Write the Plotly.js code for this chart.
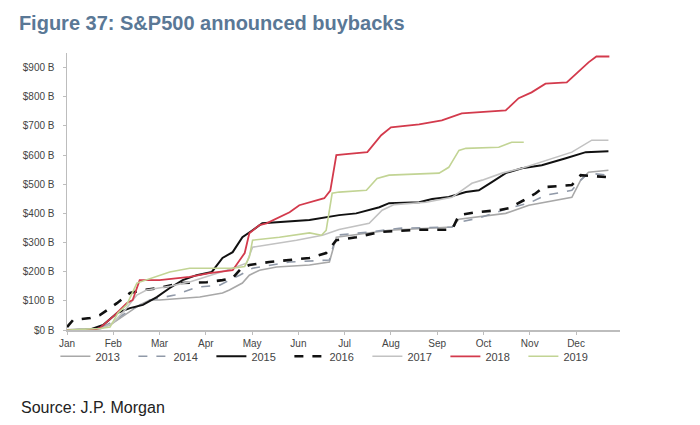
<!DOCTYPE html>
<html>
<head>
<meta charset="utf-8">
<script src="https://cdn.plot.ly/plotly-3.0.1.min.js"></script>
<style>html,body{margin:0;padding:0;background:#fff;}#chart{width:700px;height:425px;}</style>
</head>
<body>
<div id="chart"></div>
<script>
// Month positions: 0 = start of Jan, 11 = start of Dec
const monthTicks = [0,1,2,3,4,5,6,7,8,9,10,11];
const monthLabels = ["Jan","Feb","Mar","Apr","May","Jun","Jul","Aug","Sep","Oct","Nov","Dec"];
const yearNames = ["2013","2014","2015","2016","2017","2018","2019"];

// Cumulative announced buybacks ($B), x = fractional month of year
const x2013 = [0,0.60,0.93,1.25,1.57,1.79,2.00,2.87,3.36,3.51,3.79,3.94,4.16,4.53,5.24,5.67,5.82,6.96,8.32,8.47,9.48,9.98,10.62,10.91,11.10,11.27,11.70];
const y2013 = [0,3,17,51,86,103,103,113,127,137,161,188,205,216,223,233,318,342,353,380,400,428,445,455,514,541,548];

const x2014 = [0,0.71,1.03,1.36,1.79,2.33,2.82,3.30,3.73,4.01,4.81,5.67,5.82,6.53,7.18,8.32,8.47,8.90,9.55,9.98,10.34,10.91,11.10,11.27,11.70];
const y2014 = [0,3,34,68,103,120,147,154,188,212,233,240,325,336,349,353,370,384,418,435,462,479,514,538,531];

const x2015 = [0,0.50,0.78,1.08,1.36,1.64,1.94,2.22,2.50,2.80,3.13,3.36,3.58,3.79,4.01,4.22,5.24,5.88,6.25,6.75,6.96,7.61,7.89,8.25,8.62,8.90,9.18,9.48,9.83,10.26,10.78,11.21,11.70];
const y2015 = [0,2,17,58,75,86,113,144,171,188,199,247,267,318,342,366,377,394,400,421,435,438,449,456,473,479,507,538,555,565,589,610,613];

const x2016 = [0,0.13,0.50,0.71,1.08,1.36,1.64,2.00,2.44,3.02,3.36,3.58,3.77,3.94,4.37,5.24,5.60,5.82,6.25,6.75,7.61,8.32,8.47,8.84,9.33,9.55,9.87,10.13,10.30,10.91,11.10,11.70];
const y2016 = [10,34,41,51,92,127,137,144,161,164,171,178,212,223,233,247,264,308,318,336,344,344,394,404,411,418,445,469,490,497,531,524];

const x2017 = [0,0.71,0.99,1.25,1.51,1.72,2.22,2.65,3.45,3.88,4.01,4.96,5.52,5.88,6.53,6.81,7.07,7.76,8.32,8.75,8.97,9.40,9.83,10.47,10.91,11.34,11.70];
const y2017 = [0,3,24,68,120,137,150,165,205,229,284,308,325,345,366,411,430,438,455,503,514,538,555,589,610,651,651];

const x2018 = [0,0.56,0.71,1.03,1.29,1.42,1.57,2.00,2.65,3.08,3.58,3.84,3.94,4.16,4.31,4.59,4.81,5.02,5.24,5.56,5.69,5.82,6.03,6.49,6.79,7.00,7.61,8.10,8.53,8.84,9.48,9.76,10.04,10.34,10.80,11.27,11.44,11.72];
const y2018 = [0,0,7,51,92,103,171,171,182,195,205,264,332,360,366,387,404,428,438,452,478,600,603,610,668,695,705,719,743,747,753,795,815,845,849,918,938,938];

const x2019 = [0,0.71,0.93,1.10,1.29,1.51,2.22,2.65,3.58,3.84,3.94,4.01,4.59,5.24,5.50,5.60,5.73,5.88,6.47,6.70,6.96,8.04,8.25,8.47,8.62,9.33,9.61,9.87];
const y2019 = [0,5,10,58,86,161,199,212,212,218,250,308,318,333,325,342,469,473,479,520,531,538,558,616,623,627,644,644];

const xs = [x2013,x2014,x2015,x2016,x2017,x2018,x2019];
const ys = [y2013,y2014,y2015,y2016,y2017,y2018,y2019];
const styles = [
  {color:"#a8a8a8", width:1.6, dash:"solid"},
  {color:"#9099a8", width:1.6, dash:"dash"},
  {color:"#111111", width:2.0, dash:"solid"},
  {color:"#111111", width:2.6, dash:"dash"},
  {color:"#c2c2c2", width:1.6, dash:"solid"},
  {color:"#d33a4c", width:1.8, dash:"solid"},
  {color:"#c2d494", width:1.6, dash:"solid"}
];

const traces = yearNames.map((n,i)=>({
  type:"scatter", mode:"lines", name:n,
  x: xs[i], y: ys[i],
  line: Object.assign({}, styles[i]),
  hoverinfo:"skip"
}));

const layout = {
  width:700, height:425,
  paper_bgcolor:"#ffffff", plot_bgcolor:"#ffffff",
  margin:{l:67, r:80, t:53, b:95},
  font:{family:"Liberation Sans, Arial, sans-serif", color:"#444", size:10},
  title:{
    text:"<b>Figure 37: S&P500 announced buybacks</b>",
    font:{family:"Liberation Sans, Arial, sans-serif", size:20, color:"#5a7896"},
    xref:"container", yref:"container", x:0.027, xanchor:"left", y:0.945, yanchor:"middle"
  },
  xaxis:{
    range:[0,11.95], tickmode:"array", tickvals:monthTicks, ticktext:monthLabels,
    showgrid:false, zeroline:false, showline:true, linecolor:"#bdbdbd", linewidth:1.5,
    ticks:"outside", ticklen:3, tickcolor:"#bdbdbd",
    tickfont:{size:10, color:"#444"}
  },
  yaxis:{
    range:[0,950], dtick:100, tick0:0, tickprefix:"$", ticksuffix:" B",
    showgrid:false, zeroline:false, showline:true, linecolor:"#bdbdbd", linewidth:1.5,
    ticks:"outside", ticklen:3, tickcolor:"#bdbdbd", ticklabelstandoff:6,
    tickfont:{size:10, color:"#444"}
  },
  showlegend:true,
  legend:{
    orientation:"h", x:-0.021, xanchor:"left", y:-0.095, yanchor:"middle",
    font:{size:11, color:"#444"}, entrywidth:33, entrywidthmode:"pixels",
    bgcolor:"rgba(0,0,0,0)", itemclick:false
  },
  annotations:[{
    text:"Source: J.P. Morgan", xref:"paper", yref:"paper",
    x:-0.087, y:-0.28, xanchor:"left", yanchor:"middle", showarrow:false,
    font:{family:"Liberation Sans, Arial, sans-serif", size:16, color:"#222"}
  }]
};

Plotly.newPlot("chart", traces, layout, {displayModeBar:false, staticPlot:true});
</script>
</body>
</html>
